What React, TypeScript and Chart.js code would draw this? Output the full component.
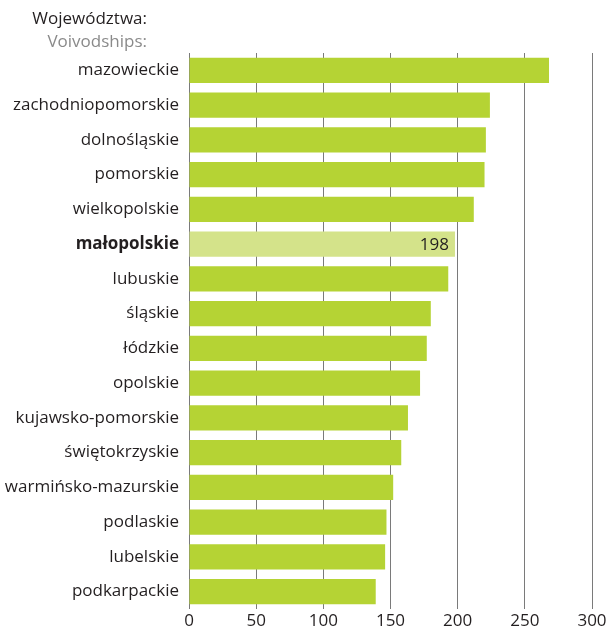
import React, { useEffect, useRef } from "react";
import { Chart, registerables } from "chart.js";

Chart.register(...registerables);

const categories = [
  "mazowieckie",
  "zachodniopomorskie",
  "dolnośląskie",
  "pomorskie",
  "wielkopolskie",
  "małopolskie",
  "lubuskie",
  "śląskie",
  "łódzkie",
  "opolskie",
  "kujawsko-pomorskie",
  "świętokrzyskie",
  "warmińsko-mazurskie",
  "podlaskie",
  "lubelskie",
  "podkarpackie",
];
const values = [268, 224, 221, 220, 212, 198, 193, 180, 177, 172, 163, 158, 152, 147, 146, 139];
const highlightIndex = 5;
const xTicks = [0, 50, 100, 150, 200, 250, 300];

const FONT = "'Open Sans', 'Noto Sans', sans-serif";
const GREEN = "#b5d334";
const LIGHT = "#d4e38a";

const valueLabelPlugin = {
  id: "valueLabel",
  afterDatasetsDraw(chart: any) {
    const meta = chart.getDatasetMeta(0);
    const el = meta.data[highlightIndex];
    if (!el) return;
    const ctx = chart.ctx;
    ctx.save();
    ctx.font = `17px ${FONT}`;
    ctx.fillStyle = "#231f20";
    ctx.textAlign = "right";
    ctx.textBaseline = "middle";
    ctx.fillText(String(values[highlightIndex]), el.x - 6, el.y + 1);
    ctx.restore();
  },
};

export default function App() {
  const ref = useRef<HTMLCanvasElement | null>(null);
  useEffect(() => {
    if (!ref.current) return;
    const chart = new Chart(ref.current, {
      type: "bar",
      data: {
        labels: categories,
        datasets: [
          {
            data: values,
            backgroundColor: values.map((_, i) => (i === highlightIndex ? LIGHT : GREEN)),
            barPercentage: 0.72,
            categoryPercentage: 1,
          },
        ],
      },
      options: {
        indexAxis: "y",
        animation: false,
        responsive: false,
        maintainAspectRatio: false,
        layout: { padding: { top: 53, right: 14, left: 0, bottom: 0 } },
        plugins: { legend: { display: false }, tooltip: { enabled: false } },
        scales: {
          x: {
            min: 0,
            max: 300,
            afterBuildTicks: (axis: any) => {
              axis.ticks = xTicks.map((v) => ({ value: v }));
            },
            afterFit: (axis: any) => {
              axis.height = 19;
              axis.paddingLeft = 0;
              axis.paddingRight = 0;
            },
            grid: { color: "#7a7a7a", lineWidth: 1, drawTicks: false },
            border: { display: false },
            ticks: {
              color: "#231f20",
              font: { family: FONT, size: 17 },
              padding: 2,
              maxRotation: 0,
            },
          },
          y: {
            afterFit: (axis: any) => {
              axis.width = 189;
              axis.paddingTop = 0;
              axis.paddingBottom = 0;
            },
            grid: { display: false, drawTicks: false },
            border: { display: false },
            ticks: {
              color: "#231f20",
              padding: 10,
              font: (c: any) => ({
                family: FONT,
                size: 17,
                weight: c.index === highlightIndex ? "bold" : "normal",
              }),
            },
          },
        },
      },
      plugins: [valueLabelPlugin],
    });
    return () => chart.destroy();
  }, []);

  return (
    <div style={{ position: "absolute", left: 0, top: 0, width: 606, height: 628, background: "#fff" }}>
      <div
        style={{
          position: "absolute",
          right: 606 - 147,
          top: 6,
          fontFamily: FONT,
          fontSize: 17,
          lineHeight: "23px",
          textAlign: "right",
          whiteSpace: "nowrap",
        }}
      >
        <div style={{ color: "#231f20" }}>Województwa:</div>
        <div style={{ color: "#8a8a8a" }}>Voivodships:</div>
      </div>
      <canvas ref={ref} width={606} height={628} style={{ display: "block" }} />
    </div>
  );
}
